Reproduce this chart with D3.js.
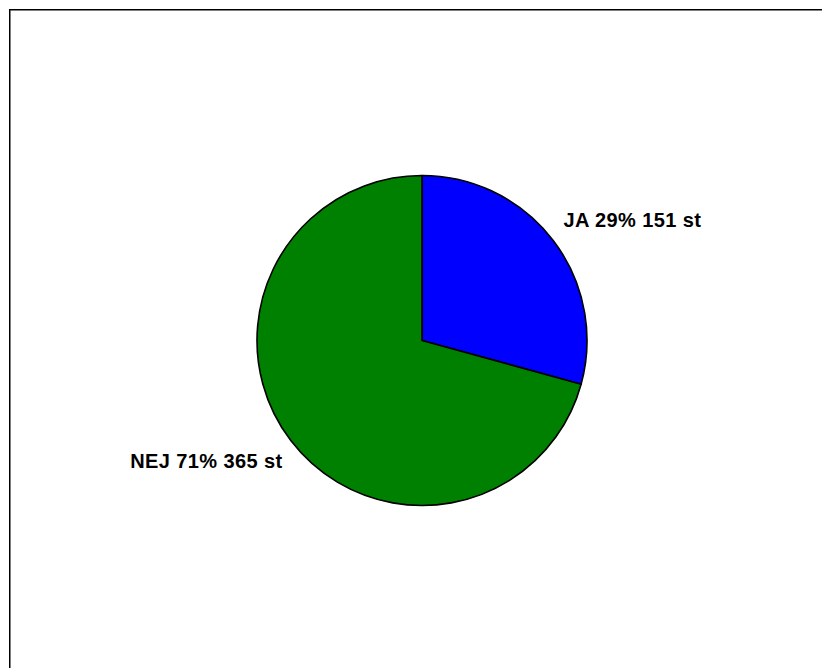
<!DOCTYPE html>
<html>
<head>
<meta charset="utf-8">
<script src="https://cdn.jsdelivr.net/npm/d3@7"></script>
<style>
  html, body { margin: 0; padding: 0; background: #fff; }
  svg { display: block; }
</style>
</head>
<body>
<svg id="chart" width="822" height="668"></svg>
<script>
// Survey answers: yes / no counts
const categories = ["JA", "NEJ"];
const counts = [151, 365];
const sliceColors = ["#0000FF", "#008000"];

const svg = d3.select("#chart");
const W = 822, H = 668;

// Outer frame (runs off the right and bottom edges)
svg.append("rect")
  .attr("x", 9.75).attr("y", 9.75)
  .attr("width", W).attr("height", H)
  .attr("fill", "none")
  .attr("stroke", "#000")
  .attr("stroke-width", 1.5);

const cx = 422, cy = 340.5, R = 165;
const total = d3.sum(counts);
const data = categories.map((c, i) => ({ name: c, value: counts[i], color: sliceColors[i] }));

const pie = d3.pie().sort(null).value(d => d.value);
const arc = d3.arc().innerRadius(0).outerRadius(R);
const labelArc = d3.arc().innerRadius(198).outerRadius(198);

const g = svg.append("g").attr("transform", `translate(${cx},${cy})`);
const arcs = pie(data);

g.selectAll("path.slice")
  .data(arcs)
  .join("path")
  .attr("class", "slice")
  .attr("d", arc)
  .attr("fill", d => d.data.color)
  .attr("stroke", "#000")
  .attr("stroke-width", 1.6)
  .attr("stroke-linejoin", "round");

g.selectAll("text.lbl")
  .data(arcs)
  .join("text")
  .attr("class", "lbl")
  .each(function(d) {
    const [x, y] = labelArc.centroid(d);
    const mid = (d.startAngle + d.endAngle) / 2;
    const right = mid < Math.PI;
    const pct = Math.round(d.data.value / total * 100);
    d3.select(this)
      .attr("x", right ? x - 16 : x + 18)
      .attr("y", y)
      .attr("dy", "0.35em")
      .attr("text-anchor", right ? "start" : "end")
      .text(`${d.data.name} ${pct}% ${d.data.value} st`);
  })
  .attr("font-family", "Arial, 'Liberation Sans', sans-serif")
  .attr("font-weight", "bold")
  .attr("font-size", "20px")
  .attr("letter-spacing", "0.4px")
  .attr("fill", "#000");
</script>
</body>
</html>
